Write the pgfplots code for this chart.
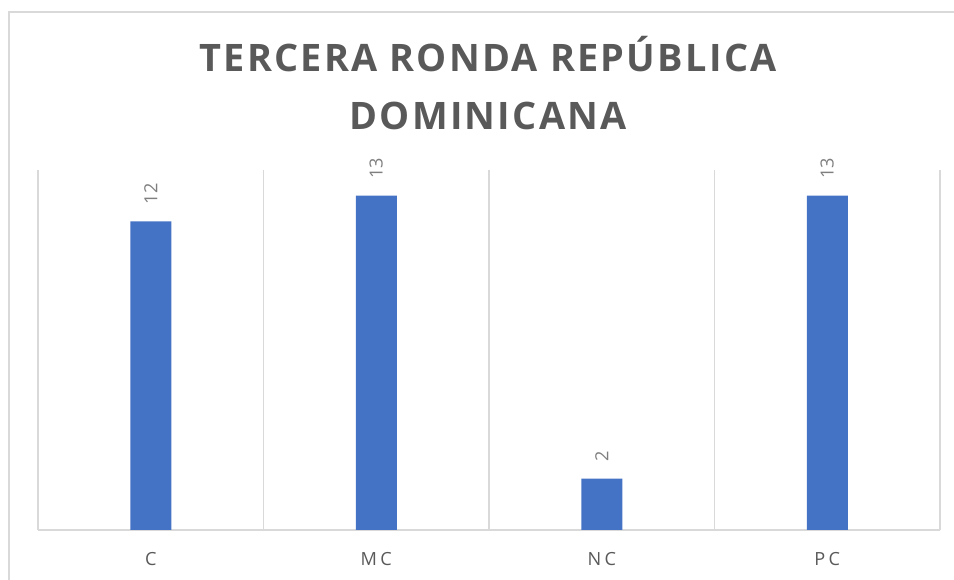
\documentclass[border=0pt]{standalone}
\usepackage{fontspec}
\setmainfont{Open Sans}
\newfontfamily\titlefont[LetterSpace=6]{Open Sans}
\newfontfamily\tickfont[LetterSpace=18]{Open Sans}
\usepackage{pgfplots}
\pgfplotsset{compat=1.18}
\definecolor{barblue}{HTML}{4472C4}
\definecolor{txtgray}{HTML}{595959}
\definecolor{lblgray}{HTML}{7F7F7F}
\definecolor{gridgray}{HTML}{D9D9D9}
\begin{document}
\begin{tikzpicture}[x=1pt,y=1pt]
\path[use as bounding box] (0,0) rectangle (715.5,435);
\draw[gridgray, line width=1pt] (6.75,-5) -- (6.75,426) -- (720,426);
\node[txtgray, anchor=base, font=\titlefont\bfseries\fontsize{28.4}{34}\selectfont] at (366,381) {TERCERA RONDA REPÚBLICA};
\node[txtgray, anchor=base, font=\titlefont\bfseries\fontsize{28.4}{34}\selectfont] at (366,337.5) {DOMINICANA};
\begin{axis}[
  at={(28.5pt,37.5pt)}, anchor=south west,
  scale only axis, width=676.5pt, height=270pt,
  ymin=0, ymax=14, xmin=-0.5, xmax=3.5,
  axis x line*=bottom, axis y line=none,
  axis line style={gridgray, line width=1pt},
  ytick=\empty,
  xtick={0,1,2,3},
  xticklabels={C,MC,NC,PC},
  minor xtick={-0.5,0.5,1.5,2.5,3.5},
  xminorgrids=true,
  minor x grid style={gridgray, line width=1pt},
  major tick length=0pt, minor tick length=0pt,
  xticklabel style={font=\tickfont\fontsize{13.6}{16}\selectfont, text=txtgray, yshift=-13pt},
  /pgf/number format/assume math mode=true,
  ybar, bar width=30.75pt,
  nodes near coords,
  every node near coord/.append style={rotate=90, anchor=west, inner xsep=12.75pt, inner ysep=0pt,
     font=\fontsize{13.6}{16}\selectfont, text=lblgray},
  clip=false,
]
\addplot[fill=barblue, draw=none] coordinates {(0,12) (1,13) (2,2) (3,13)};
\end{axis}
\end{tikzpicture}
\end{document}
